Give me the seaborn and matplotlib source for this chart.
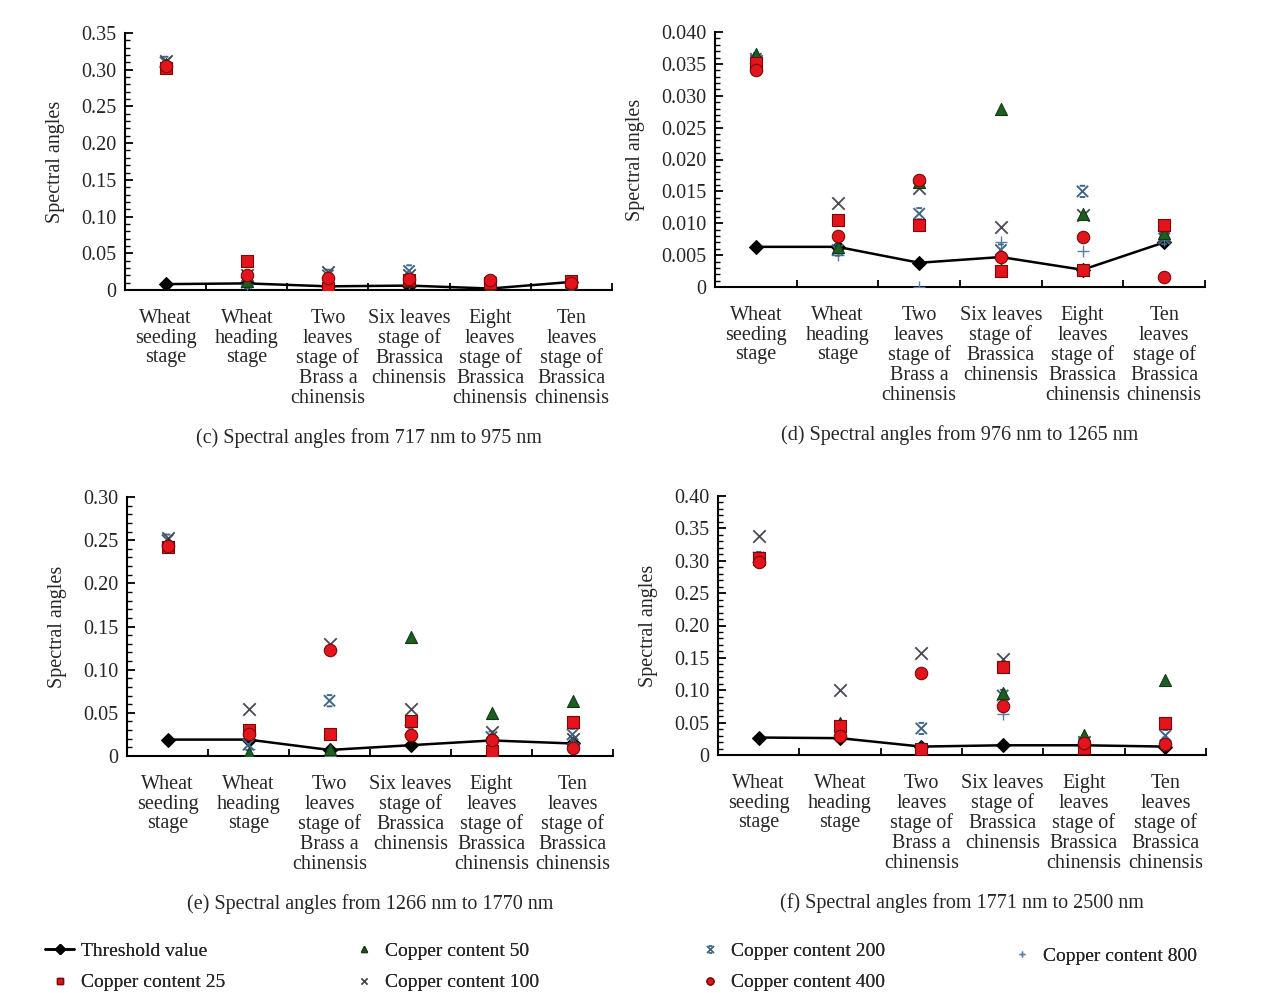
import numpy as np
import pandas as pd
import matplotlib
matplotlib.use("Agg")
import matplotlib.pyplot as plt
from matplotlib.lines import Line2D
from matplotlib.markers import MarkerStyle
from matplotlib.path import Path
from matplotlib.ticker import MultipleLocator, FixedLocator
import seaborn as sns

sns.set_theme(style="white")
plt.rcParams["font.family"] = ["Liberation Serif", "DejaVu Serif"]

# growth stages (x categories)
stages = [
    "Wheat\nseeding\nstage",
    "Wheat\nheading\nstage",
    "Two\nleaves\nstage of\nBrass a\nchinensis",
    "Six leaves\nstage of\nBrassica\nchinensis",
    "Eight\nleaves\nstage of\nBrassica\nchinensis",
    "Ten\nleaves\nstage of\nBrassica\nchinensis",
]

series_names = ["Copper content 25", "Copper content 50", "Copper content 100",
                "Copper content 200", "Copper content 400", "Copper content 800"]

# (c) 717-975 nm
c_threshold = [0.008, 0.009, 0.005, 0.006, 0.002, 0.011]
c_cu25 = [0.303, 0.039, 0.003, 0.014, 0.010, 0.012]
c_cu50 = [0.308, 0.012, 0.004, 0.012, 0.004, 0.010]
c_cu100 = [0.312, 0.020, 0.024, 0.020, 0.003, 0.003]
c_cu200 = [0.310, 0.010, 0.020, 0.026, 0.005, 0.002]
c_cu400 = [0.305, 0.021, 0.017, 0.015, 0.014, 0.010]
c_cu800 = [0.306, 0.008, 0.003, 0.010, 0.002, 0.005]

# (d) 976-1265 nm
d_threshold = [0.0063, 0.0063, 0.0038, 0.0047, 0.0027, 0.0070]
d_cu25 = [0.0352, 0.0105, 0.0098, 0.0025, 0.0026, 0.0097]
d_cu50 = [0.0365, 0.0063, 0.0165, 0.0280, 0.0115, 0.0084]
d_cu100 = [0.0355, 0.0131, 0.0155, 0.0094, 0.0113, 0.0080]
d_cu200 = [0.0358, 0.0058, 0.0115, 0.0058, 0.0150, 0.0076]
d_cu400 = [0.0340, 0.0080, 0.0168, 0.0047, 0.0078, 0.0016]
d_cu800 = [0.0350, 0.0050, 0.0000, 0.0071, 0.0056, 0.0074]

# (e) 1266-1770 nm
e_threshold = [0.019, 0.019, 0.007, 0.0125, 0.018, 0.0145]
e_cu25 = [0.242, 0.030, 0.025, 0.040, 0.006, 0.039]
e_cu50 = [0.245, 0.004, 0.008, 0.138, 0.050, 0.064]
e_cu100 = [0.253, 0.055, 0.130, 0.055, 0.028, 0.020]
e_cu200 = [0.250, 0.013, 0.064, 0.030, 0.022, 0.025]
e_cu400 = [0.243, 0.025, 0.123, 0.024, 0.019, 0.009]
e_cu800 = [0.246, 0.008, 0.000, 0.025, 0.015, 0.015]

# (f) 1771-2500 nm
f_threshold = [0.027, 0.026, 0.013, 0.015, 0.015, 0.013]
f_cu25 = [0.305, 0.045, 0.009, 0.136, 0.011, 0.050]
f_cu50 = [0.303, 0.049, 0.012, 0.095, 0.031, 0.116]
f_cu100 = [0.338, 0.101, 0.158, 0.149, 0.020, 0.049]
f_cu200 = [0.305, 0.044, 0.041, 0.092, 0.017, 0.030]
f_cu400 = [0.298, 0.029, 0.127, 0.075, 0.019, 0.017]
f_cu800 = [0.302, 0.032, 0.000, 0.063, 0.013, 0.021]

c_yticks = [0, 0.05, 0.10, 0.15, 0.20, 0.25, 0.30, 0.35]
c_ylabels = ["0", "0.05", "0.10", "0.15", "0.20", "0.25", "0.30", "0.35"]
d_yticks = [0, 0.005, 0.010, 0.015, 0.020, 0.025, 0.030, 0.035, 0.040]
d_ylabels = ["0", "0.005", "0.010", "0.015", "0.020", "0.025", "0.030", "0.035", "0.040"]
e_yticks = [0, 0.05, 0.10, 0.15, 0.20, 0.25, 0.30]
e_ylabels = ["0", "0.05", "0.10", "0.15", "0.20", "0.25", "0.30"]
f_yticks = [0, 0.05, 0.10, 0.15, 0.20, 0.25, 0.30, 0.35, 0.40]
f_ylabels = ["0", "0.05", "0.10", "0.15", "0.20", "0.25", "0.30", "0.35", "0.40"]

captions = [
    "(c) Spectral angles from 717 nm to 975 nm",
    "(d) Spectral angles from 976 nm to 1265 nm",
    "(e) Spectral angles from 1266 nm to 1770 nm",
    "(f) Spectral angles from 1771 nm to 2500 nm",
]

# "star" marker: a cross closed by short bars at top and bottom
star_path = Path(
    [(-1, -1), (1, 1), (-1, 1), (1, -1), (-0.5, 1), (0.5, 1), (-0.5, -1), (0.5, -1)],
    [Path.MOVETO, Path.LINETO, Path.MOVETO, Path.LINETO,
     Path.MOVETO, Path.LINETO, Path.MOVETO, Path.LINETO],
)
star_marker = MarkerStyle(star_path, fillstyle="none")

# marker styles for each copper level
styles = {
    "Copper content 25": dict(marker="s", color="#e3141b", edgecolor="#7a0a0a", s=85, linewidth=0.8),
    "Copper content 50": dict(marker="^", color="#1d5e22", edgecolor="#123a15", s=75, linewidth=0.8),
    "Copper content 100": dict(marker="x", color="#4a4a55", s=80, linewidth=1.3),
    "Copper content 200": dict(marker=star_marker, color="#3f6688", s=65, linewidth=1.4),
    "Copper content 400": dict(marker="o", color="#e3141b", edgecolor="#7a0a0a", s=80, linewidth=0.8),
    "Copper content 800": dict(marker="+", color="#5b7ea6", s=85, linewidth=1.0),
}
draw_order = ["Copper content 800", "Copper content 200", "Copper content 100",
              "Copper content 50", "Copper content 25", "Copper content 400"]

panels = [
    dict(thr=c_threshold, vals=[c_cu25, c_cu50, c_cu100, c_cu200, c_cu400, c_cu800],
         yt=c_yticks, yl=c_ylabels, minor=0.01, rect=[125, 33, 612, 290]),
    dict(thr=d_threshold, vals=[d_cu25, d_cu50, d_cu100, d_cu200, d_cu400, d_cu800],
         yt=d_yticks, yl=d_ylabels, minor=0.001, rect=[715, 32, 1205, 287]),
    dict(thr=e_threshold, vals=[e_cu25, e_cu50, e_cu100, e_cu200, e_cu400, e_cu800],
         yt=e_yticks, yl=e_ylabels, minor=0.01, rect=[127, 497, 613, 756]),
    dict(thr=f_threshold, vals=[f_cu25, f_cu50, f_cu100, f_cu200, f_cu400, f_cu800],
         yt=f_yticks, yl=f_ylabels, minor=0.01, rect=[718, 496, 1206, 755]),
]

W, H = 1279, 993
fig = plt.figure(figsize=(W / 100, H / 100), dpi=100)
fig.patch.set_facecolor("white")

pos = np.arange(len(stages))

for p, cap in zip(panels, captions):
    l, t, r, b = p["rect"]
    ax = fig.add_axes([l / W, 1 - b / H, (r - l) / W, (b - t) / H])
    ax.set_facecolor("white")

    thr_df = pd.DataFrame({"pos": pos, "value": p["thr"]})
    sns.lineplot(data=thr_df, x="pos", y="value", ax=ax, color="black", linewidth=1.8,
                 marker="D", markersize=7, markeredgecolor="black", zorder=2)

    long = pd.DataFrame({
        "pos": np.tile(pos, len(series_names)),
        "value": np.concatenate(p["vals"]),
        "series": np.repeat(series_names, len(stages)),
    })
    for k, name in enumerate(draw_order):
        st = dict(styles[name])
        sub = long[long["series"] == name]
        sns.scatterplot(data=sub, x="pos", y="value", ax=ax, zorder=3 + k, legend=False, **st)

    ymax = p["yt"][-1]
    ax.set_xlim(-0.5, len(stages) - 0.5)
    ax.set_ylim(0, ymax)
    ax.set_xlabel("")
    ax.set_ylabel("Spectral angles", fontsize=14.5, labelpad=12)

    ax.set_xticks(pos)
    ax.set_xticklabels(stages, fontsize=14.5, linespacing=1.055, va="top")
    ax.xaxis.set_minor_locator(FixedLocator(np.arange(-0.5, len(stages), 1.0)))
    ax.tick_params(axis="x", which="major", length=0, pad=13.5)
    ax.tick_params(axis="x", which="minor", direction="in", length=5, width=1.3, color="black")

    ax.set_yticks(p["yt"])
    ax.set_yticklabels(p["yl"], fontsize=14.5)
    ax.yaxis.set_minor_locator(MultipleLocator(p["minor"]))
    ax.tick_params(axis="y", which="major", direction="in", length=6, width=1.3, color="black", pad=6)
    ax.tick_params(axis="y", which="minor", direction="in", length=3.5, width=1.0, color="black")
    ax.tick_params(left=True, bottom=True, which="both")

    for side in ("top", "right"):
        ax.spines[side].set_visible(False)
    for side in ("left", "bottom"):
        ax.spines[side].set_color("black")
        ax.spines[side].set_linewidth(1.5)
    ax.grid(False)

    fig.text(((l + r) / 2) / W, 1 - (b + 148) / H, cap, ha="center", va="center", fontsize=14.5)


def legend_handle(name):
    st = styles[name]
    mk = st["marker"]
    filled = mk in ("s", "^", "o")
    return Line2D([0], [0], linestyle="none", marker=mk, markersize=5,
                  markerfacecolor=st["color"] if filled else "none",
                  markeredgecolor=st.get("edgecolor", st["color"]),
                  markeredgewidth=1.0)


thr_handle = Line2D([0], [0], color="black", lw=1.8, marker="D", markersize=5)

# legend columns: (handles, labels, left x in px, centre y in px)
legend_columns = [
    ([thr_handle, legend_handle("Copper content 25")], ["Threshold value", "Copper content 25"], 45, 967),
    ([legend_handle("Copper content 50"), legend_handle("Copper content 100")],
     ["Copper content 50", "Copper content 100"], 349, 967),
    ([legend_handle("Copper content 200"), legend_handle("Copper content 400")],
     ["Copper content 200", "Copper content 400"], 695, 967),
    ([legend_handle("Copper content 800")], ["Copper content 800"], 1007, 956),
]
for hs, ls, x0, yc in legend_columns:
    leg = fig.legend(hs, ls, loc="center left", bbox_to_anchor=(x0 / W, 1 - yc / H),
                     frameon=False, fontsize=14, handlelength=1.5, handletextpad=0.35,
                     borderpad=0, borderaxespad=0, labelspacing=0.7)
    fig.add_artist(leg)

fig.savefig("out.png", dpi=100, facecolor="white")
